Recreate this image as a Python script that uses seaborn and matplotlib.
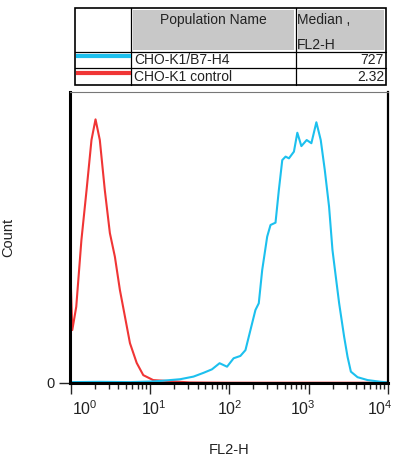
import numpy as np
import pandas as pd
import matplotlib
matplotlib.use("Agg")
import matplotlib.pyplot as plt
import matplotlib.transforms as mtransforms
import seaborn as sns
from matplotlib.patches import Rectangle

# histogram outlines: log10(FL2-H) and count (0-100 scale)
red_log = [0.0, 0.02, 0.07, 0.135, 0.2, 0.262, 0.313, 0.367, 0.43, 0.494, 0.557,
           0.62, 0.684, 0.747, 0.832, 0.915, 1.04, 1.5, 2.0, 2.5, 3.0, 3.5, 4.0]
red_count = [35.4, 18.2, 26.2, 49.1, 66.3, 83.5, 90.6, 83.5, 66.3, 51.5, 43.4,
             32.0, 22.8, 13.7, 6.9, 2.7, 1.0, 0.2, 0.1, 0.1, 0.1, 0.1, 0.1]

blue_log = [0.0, 0.367, 0.747, 1.0, 1.127, 1.253, 1.38, 1.548, 1.675, 1.781, 1.877,
            1.971, 2.054, 2.139, 2.203, 2.266, 2.329, 2.371, 2.414, 2.477, 2.519,
            2.582, 2.624, 2.667, 2.709, 2.751, 2.814, 2.857, 2.908, 2.975, 3.034,
            3.097, 3.152, 3.203, 3.257, 3.3, 3.342, 3.384, 3.447, 3.49, 3.532,
            3.616, 3.743, 3.911, 4.0]
blue_count = [0.3, 0.4, 0.3, 0.5, 0.7, 1.0, 1.3, 2.2, 3.5, 4.7, 6.8,
              5.6, 8.5, 9.3, 11.3, 18.2, 25.1, 27.4, 38.8, 50.3, 54.3,
              55.1, 66.3, 76.6, 77.8, 77.2, 79.5, 86.0, 81.4, 83.5, 82.4,
              89.6, 83.5, 73.2, 60.6, 45.7, 36.5, 27.4, 15.9, 9.0, 3.9,
              2.0, 1.0, 0.4, 0.2]

populations = ["CHO-K1/B7-H4", "CHO-K1 control"]
medians = ["727", "2.32"]
colors = ["#1cc0ee", "#f03535"]
decades = [0, 1, 2, 3, 4]
label_shift = [14, 4, 0, -6, -8]  # px, how the labels sit next to their ticks

sns.set_style("white")
plt.rcParams["font.family"] = ["Liberation Sans", "DejaVu Sans"]
plt.rcParams["mathtext.fontset"] = "custom"
plt.rcParams["mathtext.rm"] = "Liberation Sans"

W, H = 399, 467
fig = plt.figure(figsize=(W / 100, H / 100), dpi=100)
ax = fig.add_axes([70 / W, 1 - 383 / H, 318 / W, 291 / H])

red = pd.DataFrame({"FL2-H": 10 ** np.array(red_log), "Count": red_count})
blue = pd.DataFrame({"FL2-H": 10 ** np.array(blue_log), "Count": blue_count})
sns.lineplot(data=red, x="FL2-H", y="Count", color=colors[1], lw=1.5, ax=ax)
sns.lineplot(data=blue, x="FL2-H", y="Count", color=colors[0], lw=1.5, ax=ax)

ax.set_xscale("log")
ax.set_xlim(0.98, 10000)
ax.set_ylim(0, 100)
ax.set_xticks([10 ** d for d in decades])
ax.set_xticklabels([])
for d, dx in zip(decades, label_shift):
    tr = ax.get_xaxis_transform() + mtransforms.ScaledTranslation(dx / 100, 0, fig.dpi_scale_trans)
    ax.text(10 ** d, -(399 - 383) / 291, r"$\mathregular{10^{%d}}$" % d, transform=tr,
            ha="center", va="top", fontsize=11.5, color="#222222", clip_on=False)
ax.set_yticks([0])
ax.set_yticklabels(["0"], fontsize=10.5, color="#222222")
ax.tick_params(axis="x", which="major", direction="out", length=8, width=1, bottom=True)
ax.tick_params(axis="x", which="minor", direction="out", length=4, width=1, bottom=True)
ax.tick_params(axis="y", direction="out", length=8, width=1, left=True, pad=3)
ax.set_xlabel("FL2-H", fontsize=10.5, color="#222222")
ax.set_ylabel("Count", fontsize=10.5, color="#222222")
ax.xaxis.set_label_coords(0.5, -(443 - 383) / 291)
ax.yaxis.set_label_coords((15 - 70) / 318, 0.5)

for side in ["left", "bottom"]:
    ax.spines[side].set_color("black")
    ax.spines[side].set_linewidth(2.2)
ax.spines["right"].set_color("black")
ax.spines["right"].set_linewidth(1.6)
ax.spines["top"].set_color("#777777")
ax.spines["top"].set_linewidth(0.8)

# table above the plot, drawn in pixel coords
tb = fig.add_axes([0, 0, 1, 1])
tb.set_xlim(0, W)
tb.set_ylim(H, 0)
tb.axis("off")

x0, x1, x2, x3 = 75, 131, 296, 386
y0, y1, y2, y3 = 8, 52, 68, 85
tb.add_patch(Rectangle((x1 + 2, y0 + 2), x2 - x1 - 4, y1 - y0 - 4, color="#c8c8c8", lw=0))
tb.add_patch(Rectangle((x2 + 2, y0 + 2), x3 - x2 - 4, y1 - y0 - 4, color="#c8c8c8", lw=0))
tb.add_patch(Rectangle((x0, y0), x3 - x0, y3 - y0, fill=False, ec="black", lw=1.2))
for yy in [y1, y2]:
    tb.plot([x0, x3], [yy, yy], color="black", lw=0.9)
for xx in [x1, x2]:
    tb.plot([xx, xx], [y0, y3], color="black", lw=0.9)

tb.text((x1 + x2) / 2, 20, "Population Name", ha="center", va="center", fontsize=10, color="#222222")
tb.text(x2 + 1, 20, "Median ,", ha="left", va="center", fontsize=10, color="#222222")
fl = tb.text(x2 + 1, 45, "FL2-H", ha="left", va="center", fontsize=10, color="#222222")
fl.set_clip_path(Rectangle((x2, y0), x3 - x2, y1 - y0 - 2, transform=tb.transData))

rows_y = [(y1 + y2) / 2, (y2 + y3) / 2]
for name, med, col, ry in zip(populations, medians, colors, rows_y):
    tb.plot([x0 + 1, x1], [ry - 4, ry - 4], color=col, lw=3, solid_capstyle="butt")
    tb.text(x1 + 3, ry + 0.5, name, ha="left", va="center", fontsize=10, color="#222222")
    tb.text(x3 - 2, ry + 0.5, med, ha="right", va="center", fontsize=10, color="#222222")

fig.savefig("out.png", dpi=100)
